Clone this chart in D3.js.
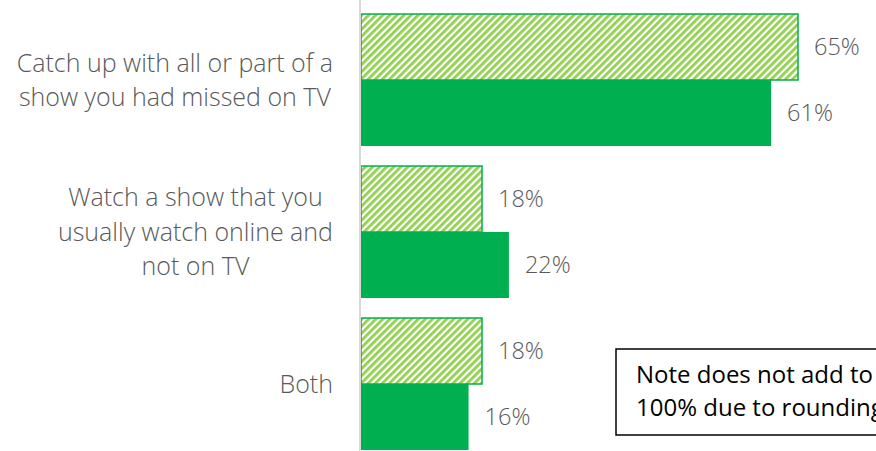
<!DOCTYPE html>
<html><head><meta charset="utf-8">
<script src="https://cdn.jsdelivr.net/npm/d3@7"></script>
<style>body{margin:0;background:#fff;overflow:hidden}</style>
</head><body>
<svg id="c" width="876" height="451"></svg>
<script>
const categories = [
  ["Catch up with all or part of a", "show you had missed on TV"],
  ["Watch a show that you", "usually watch online and", "not on TV"],
  ["Both"]
];
const seriesNames = ["Series A (hatched)", "Series B (solid)"];
const seriesA = [65, 18, 18];
const seriesB = [61, 22, 16];
const noteLines = ["Note does not add to", "100% due to rounding"];

const svg = d3.select("#c");
const W = 876, H = 451;
const x0 = 361;
const x = d3.scaleLinear().domain([0, 65]).range([x0, 798]);
const y = d3.scaleBand().domain(d3.range(categories.length)).range([14, 450]).paddingInner(20/152).paddingOuter(0);
const ys = d3.scaleBand().domain([0,1]).range([0, y.bandwidth()]);

const defs = svg.append("defs");
const pat = defs.append("pattern").attr("id","hatch").attr("patternUnits","userSpaceOnUse")
  .attr("width",5).attr("height",5).attr("patternTransform","rotate(45)");
pat.append("rect").attr("width",5).attr("height",5).attr("fill","#fff");
pat.append("rect").attr("width",2.8).attr("height",5).attr("fill","#92D050");

const font = "'Open Sans', sans-serif";
const data = categories.map((c,i)=>({i, c, a: seriesA[i], b: seriesB[i]}));

const g = svg.append("g");
data.forEach(d=>{
  const top = y(d.i);
  g.append("rect").attr("x", x(0)).attr("y", top + ys(0)).attr("width", x(d.a)-x(0)).attr("height", ys.bandwidth())
    .attr("fill","url(#hatch)").attr("stroke","#00B050").attr("stroke-width",1.5);
  g.append("rect").attr("x", x(0)).attr("y", top + ys(1)).attr("width", x(d.b)-x(0)).attr("height", ys.bandwidth())
    .attr("fill","#00B050");
  g.append("text").attr("x", x(d.a)+16).attr("y", top + ys(0) + ys.bandwidth()/2).attr("dy","0.35em")
    .attr("font-family",font).attr("font-weight",300).attr("font-size",23.5).attr("fill","#595959").text(d.a+"%");
  g.append("text").attr("x", x(d.b)+16).attr("y", top + ys(1) + ys.bandwidth()/2).attr("dy","0.35em")
    .attr("font-family",font).attr("font-weight",300).attr("font-size",23.5).attr("fill","#595959").text(d.b+"%");
  const cy = top + y.bandwidth()/2;
  const lh = 34.5;
  const n = d.c.length;
  const t = g.append("text").attr("text-anchor","middle").attr("font-family",font).attr("font-weight",300)
    .attr("font-size",25).attr("fill","#595959");
  const spans = d.c.map((line,k)=>
    t.append("tspan").attr("y", cy + (k-(n-1)/2)*lh).attr("dy","0.35em").text(line));
  const maxW = d3.max(spans, s=>s.node().getComputedTextLength());
  spans.forEach(s=>s.attr("x", 333 - maxW/2));
});

svg.append("line").attr("x1",360).attr("x2",360).attr("y1",0).attr("y2",H).attr("stroke","#d9d9d9").attr("stroke-width",2);

svg.append("rect").attr("x",616).attr("y",349).attr("width",300).attr("height",86).attr("fill","#fff").attr("stroke","#000").attr("stroke-width",1.5);
const nt = svg.append("text").attr("font-family",font).attr("font-size",24).attr("fill","#000");
noteLines.forEach((l,k)=>nt.append("tspan").attr("x",636).attr("y",383+k*32.5).text(l));
</script>
</body></html>
